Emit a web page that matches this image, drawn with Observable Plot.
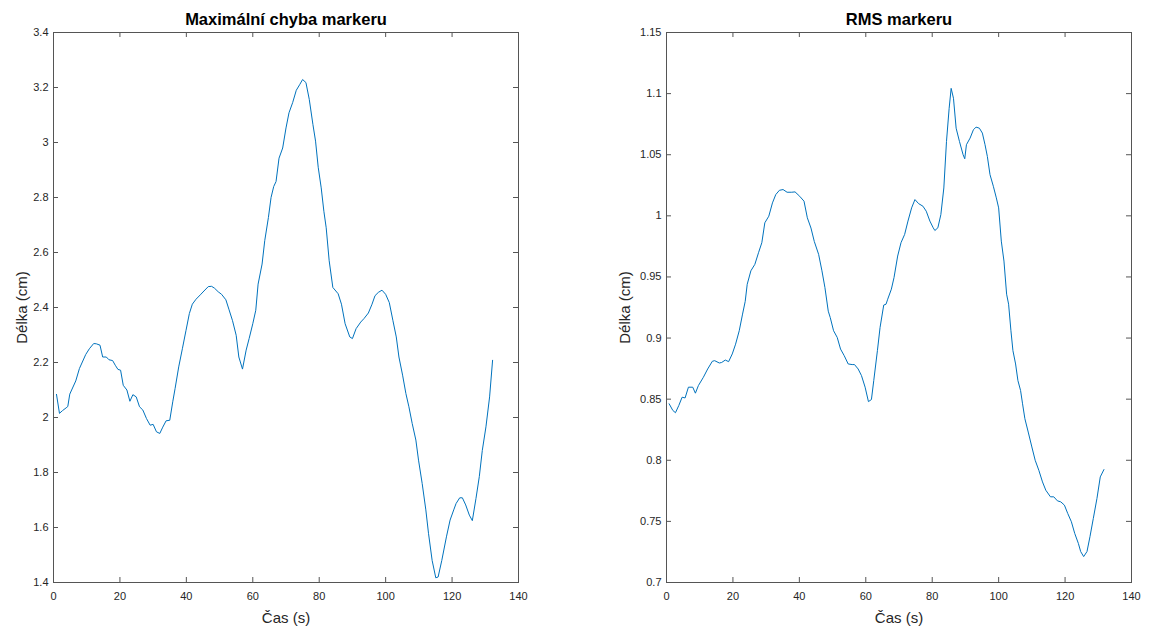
<!DOCTYPE html>
<html>
<head>
<meta charset="utf-8">
<script src="https://cdn.jsdelivr.net/npm/d3@7"></script>
<script src="https://cdn.jsdelivr.net/npm/@observablehq/plot@0.6"></script>
<style>
  html, body { margin: 0; padding: 0; background: #fff; }
  #root { position: relative; width: 1149px; height: 626px; font-family: "Liberation Sans", Arial, sans-serif; }
  .panel { position: absolute; top: 0; }
</style>
</head>
<body>
<div id="root">
  <div id="left" class="panel" style="left:0px"></div>
  <div id="right" class="panel" style="left:580px"></div>
</div>
<script>
// ---------- Data ----------
const maxTitle = "Maximální chyba markeru";
const rmsTitle = "RMS markeru";
const xLabel = "Čas (s)";
const yLabel = "Délka (cm)";

const xTicks = [0, 20, 40, 60, 80, 100, 120, 140];
const xTickLabels = ["0", "20", "40", "60", "80", "100", "120", "140"];

const maxYTicks = [1.4, 1.6, 1.8, 2, 2.2, 2.4, 2.6, 2.8, 3, 3.2, 3.4];
const maxYTickLabels = ["1.4", "1.6", "1.8", "2", "2.2", "2.4", "2.6", "2.8", "3", "3.2", "3.4"];

const rmsYTicks = [0.7, 0.75, 0.8, 0.85, 0.9, 0.95, 1, 1.05, 1.1, 1.15];
const rmsYTickLabels = ["0.7", "0.75", "0.8", "0.85", "0.9", "0.95", "1", "1.05", "1.1", "1.15"];

const maxTime = [0.9, 1.8, 2.7, 3.8, 4.3, 4.9, 6.7, 7.8, 9.7, 10.8, 12.1, 12.9, 14.0, 14.8, 15.9, 16.7, 17.8, 18.6, 19.4, 20.2,
  21.0, 22.1, 23.0, 23.9, 24.9, 25.9, 26.9, 28.0, 29.1, 30.0, 31.0, 32.0, 32.9, 33.9, 35.0, 35.9, 36.6, 37.7, 38.8, 39.9,
  40.9, 41.8, 42.9, 44.2, 45.3, 46.6, 47.6, 48.5, 49.6, 50.6, 51.9, 52.8, 53.9, 55.0, 55.8, 56.9, 58.0, 58.9, 60.0, 60.9,
  61.6, 62.8, 63.6, 64.7, 65.5, 66.3, 67.0, 67.9, 69.0, 70.0, 70.9, 72.0, 73.1, 74.1, 75.0, 76.0, 77.0, 78.1, 78.9, 79.7,
  80.6, 81.4, 82.1, 83.0, 84.1, 85.7, 86.7, 87.8, 89.2, 90.0, 91.1, 92.5, 93.5, 94.8, 95.9, 96.8, 97.8, 98.9, 100.0, 101.1,
  102.2, 103.2, 104.0, 105.1, 106.1, 107.0, 108.0, 109.1, 109.9, 111.0, 112.1, 112.9, 114.0, 115.1, 115.8, 116.9, 118.3, 119.4, 120.5, 121.2,
  122.3, 123.1, 124.1, 125.2, 126.1, 127.2, 128.2, 129.1, 130.2, 131.3, 132.2];
const maxValues = [2.084, 2.015, 2.025, 2.035, 2.04, 2.085, 2.133, 2.178, 2.229, 2.25, 2.269, 2.268, 2.263, 2.22, 2.22, 2.21, 2.207, 2.19, 2.175, 2.172,
  2.117, 2.10, 2.059, 2.083, 2.075, 2.039, 2.027, 1.996, 1.972, 1.975, 1.948, 1.942, 1.965, 1.988, 1.99, 2.057, 2.105, 2.184, 2.25, 2.317,
  2.378, 2.412, 2.43, 2.446, 2.46, 2.476, 2.477, 2.47, 2.457, 2.448, 2.428, 2.394, 2.352, 2.299, 2.22, 2.176, 2.245, 2.287, 2.341, 2.39,
  2.485, 2.558, 2.643, 2.727, 2.80, 2.84, 2.858, 2.943, 2.98, 3.053, 3.108, 3.145, 3.19, 3.21, 3.229, 3.218, 3.157, 3.066, 3.005, 2.91,
  2.835, 2.75, 2.69, 2.57, 2.473, 2.45, 2.412, 2.341, 2.293, 2.287, 2.323, 2.347, 2.36, 2.38, 2.412, 2.443, 2.455, 2.463, 2.448, 2.418,
  2.352, 2.293, 2.22, 2.154, 2.087, 2.039, 1.978, 1.918, 1.845, 1.76, 1.664, 1.579, 1.48, 1.417, 1.42, 1.48, 1.566, 1.627, 1.664, 1.687,
  1.708, 1.708, 1.682, 1.645, 1.625, 1.706, 1.785, 1.88, 1.966, 2.075, 2.208];

const rmsTime = [0.8, 1.9, 2.7, 3.7, 4.7, 5.6, 6.6, 7.9, 8.7, 9.6, 11.1, 12.4, 13.8, 14.5, 15.9, 16.6, 17.7, 18.7, 19.8, 20.8,
  21.9, 22.9, 23.7, 24.3, 25.4, 26.6, 27.7, 28.7, 29.6, 30.8, 31.9, 32.9, 34.0, 35.1, 36.3, 37.7, 38.7, 40.1, 41.4, 42.4,
  43.5, 44.5, 45.8, 46.8, 47.7, 48.7, 49.3, 50.3, 51.4, 52.4, 53.5, 54.7, 55.9, 56.6, 57.7, 58.7, 59.8, 60.8, 61.7, 62.4,
  63.5, 64.3, 65.4, 66.1, 66.6, 67.7, 68.5, 69.6, 70.6, 71.7, 72.7, 73.8, 74.8, 75.9, 77.2, 78.2, 79.3, 80.3, 80.8, 81.7,
  82.6, 83.5, 84.3, 85.1, 85.7, 86.4, 87.2, 88.2, 89.3, 89.8, 90.3, 91.4, 92.4, 93.2, 94.2, 95.1, 95.9, 96.6, 97.4, 98.4,
  99.3, 100.0, 100.8, 101.6, 102.4, 103.0, 103.7, 104.3, 105.1, 105.8, 106.6, 107.2, 107.9, 108.9, 110.0, 111.0, 112.1, 113.2, 114.2, 115.6,
  116.6, 117.7, 118.7, 119.8, 120.8, 121.9, 122.9, 124.0, 124.7, 125.6, 126.6, 127.5, 128.5, 129.6, 130.6, 131.7];
const rmsValues = [0.8462, 0.8408, 0.8389, 0.8448, 0.8516, 0.851, 0.8598, 0.8598, 0.8549, 0.8611, 0.8679, 0.8747, 0.881, 0.8815, 0.8796, 0.880, 0.882, 0.8807, 0.887, 0.895,
  0.906, 0.9196, 0.930, 0.944, 0.955, 0.9603, 0.9698, 0.978, 0.9943, 0.9997, 1.0106, 1.0174, 1.0209, 1.0215, 1.0193, 1.0193, 1.0196, 1.016, 1.012, 0.9984,
  0.990, 0.979, 0.9685, 0.955, 0.9413, 0.922, 0.9168, 0.906, 0.9005, 0.891, 0.8856, 0.8788, 0.8783, 0.8783, 0.8747, 0.8693, 0.8598, 0.848, 0.8497, 0.8652,
  0.8897, 0.9087, 0.927, 0.9277, 0.9318, 0.940, 0.9495, 0.9671, 0.978, 0.9848, 0.9957, 1.0065, 1.0133, 1.010, 1.0079, 1.0038, 0.9957, 0.9902, 0.988, 0.9902,
  1.001, 1.0228, 1.0609, 1.088, 1.1043, 1.0962, 1.0717, 1.0609, 1.05, 1.0467, 1.0582, 1.0636, 1.0704, 1.0726, 1.0717, 1.0677, 1.0582, 1.0486, 1.0337, 1.0242,
  1.0147, 1.0065, 0.9793, 0.963, 0.9359, 0.9277, 0.906, 0.8897, 0.8788, 0.8652, 0.8571, 0.8462, 0.834, 0.8231, 0.8109, 0.80, 0.7918, 0.7823, 0.7755, 0.7701,
  0.7701, 0.7668, 0.766, 0.7633, 0.7565, 0.7497, 0.7402, 0.732, 0.7253, 0.7212, 0.7253, 0.7375, 0.7524, 0.7688, 0.7864, 0.7924];

// ---------- Styling ----------
const LINE = "#0072BD";
const AXIS = "#555555";
const TEXT = "#262626";
const FONT = "'Liberation Sans', Arial, sans-serif";
const H = 626, MT = 32, MB = 44;
const TICK = 5;

function panel({width, marginLeft, marginRight, title, yDomain, yTicks, yTickLabels, times, values, yLabelDx}) {
  const data = times.map((t, i) => ({t, v: values[i]}));
  const plotW = width - marginLeft - marginRight;
  const plotH = H - MT - MB;
  return Plot.plot({
    width, height: H,
    marginLeft, marginRight, marginTop: MT, marginBottom: MB,
    style: {fontFamily: FONT, fontSize: "11px", color: TEXT, background: "white", overflow: "visible"},
    x: {domain: [0, 140], axis: null},
    y: {domain: yDomain, axis: null},
    marks: [
      Plot.line(data, {x: "t", y: "v", stroke: LINE, strokeWidth: 1}),
      Plot.frame({stroke: AXIS, strokeWidth: 1}),
      // inward ticks on all four sides (MATLAB box style)
      Plot.tickX(xTicks, {x: d => d, stroke: AXIS, insetTop: plotH - TICK}),
      Plot.tickX(xTicks, {x: d => d, stroke: AXIS, insetBottom: plotH - TICK}),
      Plot.tickY(yTicks, {y: d => d, stroke: AXIS, insetRight: plotW - TICK}),
      Plot.tickY(yTicks, {y: d => d, stroke: AXIS, insetLeft: plotW - TICK}),
      Plot.axisX({ticks: xTicks, tickSize: 0, tickPadding: 10, tickFormat: d => xTickLabels[xTicks.indexOf(d)], fill: TEXT, fontSize: 11, label: null}),
      Plot.axisY({ticks: yTicks, tickSize: 0, tickPadding: 5, tickFormat: d => yTickLabels[yTicks.indexOf(d)], fill: TEXT, fontSize: 11, label: null}),
      Plot.text([title], {frameAnchor: "top", dy: -8, lineAnchor: "bottom", fontSize: 16.5, fontWeight: "bold", fill: "#000"}),
      Plot.text([xLabel], {frameAnchor: "bottom", dy: 40, lineAnchor: "bottom", fontSize: 15, fill: TEXT}),
      Plot.text([yLabel], {frameAnchor: "left", dx: yLabelDx, rotate: -90, textAnchor: "middle", lineAnchor: "middle", fontSize: 15, fill: TEXT})
    ]
  });
}

document.getElementById("left").append(panel({
  width: 580, marginLeft: 53, marginRight: 62,
  title: maxTitle, yDomain: [1.4, 3.4], yTicks: maxYTicks, yTickLabels: maxYTickLabels,
  times: maxTime, values: maxValues, yLabelDx: -31
}));

document.getElementById("right").append(panel({
  width: 569, marginLeft: 86, marginRight: 18,
  title: rmsTitle, yDomain: [0.7, 1.15], yTicks: rmsYTicks, yTickLabels: rmsYTickLabels,
  times: rmsTime, values: rmsValues, yLabelDx: -41
}));
</script>
</body>
</html>
